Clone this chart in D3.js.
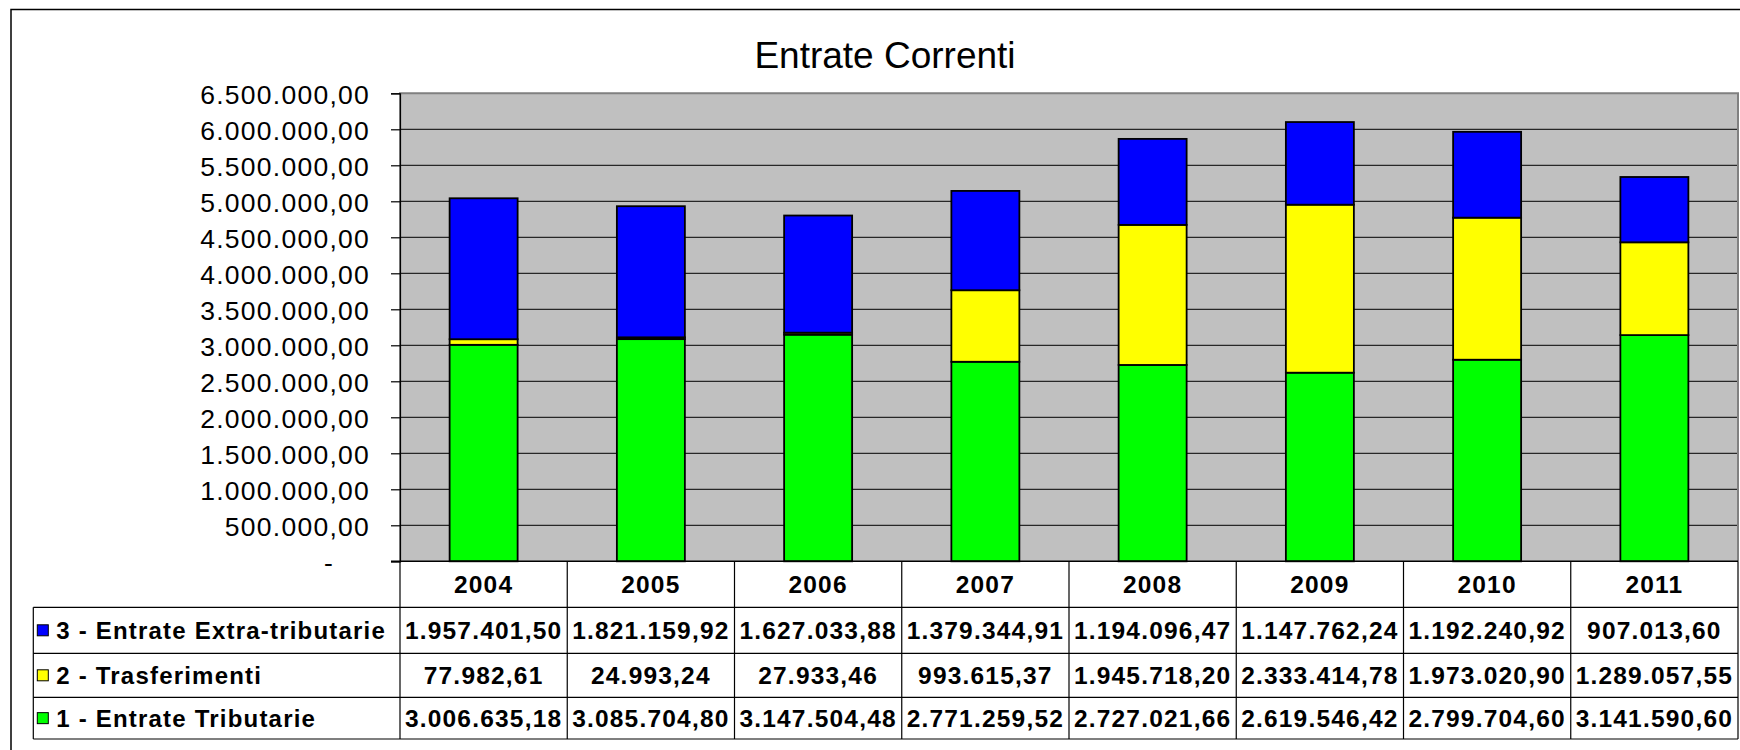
<!DOCTYPE html>
<html>
<head>
<meta charset="utf-8">
<script src="https://cdn.jsdelivr.net/npm/d3@7"></script>
<style>
  html, body { margin: 0; padding: 0; background: #fff; }
  svg { display: block; font-family: "Liberation Sans", Arial, sans-serif; }
</style>
</head>
<body>
<svg id="chart" width="1740" height="750"></svg>
<script>
// ---- data ----
const years = ["2004", "2005", "2006", "2007", "2008", "2009", "2010", "2011"];
const seriesNames = ["1 - Entrate Tributarie", "2 - Trasferimenti", "3 - Entrate Extra-tributarie"];
const tributarie   = [3006635.18, 3085704.80, 3147504.48, 2771259.52, 2727021.66, 2619546.42, 2799704.60, 3141590.60];
const trasferimenti = [77982.61, 24993.24, 27933.46, 993615.37, 1945718.20, 2333414.78, 1973020.90, 1289057.55];
const extraTributarie = [1957401.50, 1821159.92, 1627033.88, 1379344.91, 1194096.47, 1147762.24, 1192240.92, 907013.60];
const yTickValues = [0, 500000, 1000000, 1500000, 2000000, 2500000, 3000000, 3500000, 4000000, 4500000, 5000000, 5500000, 6000000, 6500000];
const title = "Entrate Correnti";

// ---- layout / style ----
const colors = ["#00FF00", "#FFFF00", "#0000FF"];
const plot = { left: 400, right: 1738, top: 93.3, bottom: 561.3 };
const rowHeights = [46, 46, 44, 41.7];   // header, row3, row2, row1
const legendLeft = 33.3;

const svg = d3.select("#chart");
const locale = d3.formatLocale({ decimal: ",", thousands: ".", grouping: [3], currency: ["", ""] });
const fmt = locale.format(",.2f");

// outer chart border
svg.append("rect")
  .attr("x", 11).attr("y", 9.5).attr("width", 1780).attr("height", 800)
  .attr("fill", "none").attr("stroke", "#000").attr("stroke-width", 1.5);

// title
svg.append("text")
  .attr("x", 885).attr("y", 68)
  .attr("text-anchor", "middle")
  .attr("font-size", 37)
  .attr("fill", "#000")
  .text(title);

// scales
const y = d3.scaleLinear().domain([0, 6500000]).range([plot.bottom, plot.top]);
const xCol = d3.scaleBand().domain(years).range([plot.left, plot.right]).padding(0);
const pin = 1 - 68 / xCol.step();
const xBar = d3.scaleBand().domain(years).range([plot.left, plot.right])
  .paddingInner(pin).paddingOuter(pin / 2);

// plot background
svg.append("rect")
  .attr("x", plot.left).attr("y", plot.top)
  .attr("width", plot.right - plot.left).attr("height", plot.bottom - plot.top)
  .attr("fill", "#C0C0C0");

// gridlines
svg.append("g").selectAll("line")
  .data(yTickValues.filter(v => v > 0 && v < 6500000))
  .join("line")
  .attr("x1", plot.left).attr("x2", plot.right)
  .attr("y1", d => y(d)).attr("y2", d => y(d))
  .attr("stroke", "#000").attr("stroke-width", 1);

// plot border (gray)
svg.append("path")
  .attr("d", `M${plot.left},${plot.bottom}V${plot.top}H${plot.right}V${plot.bottom}`)
  .attr("fill", "none").attr("stroke", "#808080").attr("stroke-width", 2);

// y axis
const yAxis = d3.axisLeft(y)
  .tickValues(yTickValues)
  .tickSize(9)
  .tickPadding(0)
  .tickFormat(d => d === 0 ? "-" : fmt(d));
const gy = svg.append("g").attr("transform", `translate(${plot.left},0)`).call(yAxis);
gy.select(".domain").attr("stroke", "#000").attr("stroke-width", 1.2);
gy.selectAll(".tick line").attr("stroke", "#000").attr("stroke-width", 1.2);
gy.selectAll(".tick text")
  .attr("x", d => d === 0 ? -66 : -30)
  .attr("dy", "0.38em")
  .attr("font-size", 26.5)
  .attr("font-family", "Liberation Sans, Arial, sans-serif")
  .style("letter-spacing", "1.25px")
  .attr("fill", "#000");

// stacked bars
const table = years.map((yr, i) => ({ year: yr, s1: tributarie[i], s2: trasferimenti[i], s3: extraTributarie[i] }));
const stack = d3.stack().keys(["s1", "s2", "s3"]);
const stacked = stack(table);

svg.append("g").selectAll("g")
  .data(stacked)
  .join("g")
  .attr("fill", (d, i) => colors[i])
  .selectAll("rect")
  .data(d => d)
  .join("rect")
  .attr("x", d => xBar(d.data.year))
  .attr("width", xBar.bandwidth())
  .attr("y", d => y(d[1]))
  .attr("height", d => y(d[0]) - y(d[1]))
  .attr("stroke", "#000").attr("stroke-width", 1.8);

// x axis line
svg.append("line")
  .attr("x1", plot.left - 9).attr("x2", plot.right)
  .attr("y1", plot.bottom).attr("y2", plot.bottom)
  .attr("stroke", "#000").attr("stroke-width", 1.5);

// ---- data table ----
const rowTops = [];
let acc = plot.bottom;
rowHeights.forEach(h => { rowTops.push(acc); acc += h; });
const tableBottom = acc;
const gt = svg.append("g");

// horizontal lines (below header)
for (let r = 1; r <= rowHeights.length; r++) {
  const yy = r < rowHeights.length ? rowTops[r] : tableBottom;
  gt.append("line")
    .attr("x1", legendLeft).attr("x2", plot.right)
    .attr("y1", yy).attr("y2", yy)
    .attr("stroke", "#000").attr("stroke-width", 1.2);
}
// vertical lines
gt.append("line")
  .attr("x1", legendLeft).attr("x2", legendLeft)
  .attr("y1", rowTops[1]).attr("y2", tableBottom)
  .attr("stroke", "#000").attr("stroke-width", 1.2);
const colEdges = years.map(yr => xCol(yr)).concat([plot.right]);
gt.selectAll("line.col")
  .data(colEdges)
  .join("line")
  .attr("class", "col")
  .attr("x1", d => d).attr("x2", d => d)
  .attr("y1", plot.bottom).attr("y2", tableBottom)
  .attr("stroke", "#000").attr("stroke-width", 1.2);

const cellFont = { size: 24.5, ls: "1.2px" };
// header years
gt.selectAll("text.year")
  .data(years)
  .join("text")
  .attr("class", "year")
  .attr("x", d => xCol(d) + xCol.bandwidth() / 2)
  .attr("y", rowTops[0] + rowHeights[0] / 2 + 8.5)
  .attr("text-anchor", "middle")
  .attr("font-size", cellFont.size).attr("font-weight", "bold")
  .style("letter-spacing", cellFont.ls)
  .text(d => d);

// rows: series 3, 2, 1
const rowSeries = [
  { name: seriesNames[2], values: extraTributarie, color: colors[2] },
  { name: seriesNames[1], values: trasferimenti, color: colors[1] },
  { name: seriesNames[0], values: tributarie, color: colors[0] }
];
rowSeries.forEach((s, r) => {
  const top = rowTops[r + 1];
  const h = rowHeights[r + 1];
  const cy = top + h / 2;
  gt.append("rect")
    .attr("x", legendLeft + 4).attr("y", cy - 5.5)
    .attr("width", 11).attr("height", 11)
    .attr("fill", s.color).attr("stroke", "#000").attr("stroke-width", 1);
  gt.append("text")
    .attr("x", legendLeft + 23).attr("y", cy + 8.5)
    .attr("font-size", 24).attr("font-weight", "bold")
    .style("letter-spacing", cellFont.ls)
    .text(s.name);
  gt.selectAll(null)
    .data(s.values)
    .join("text")
    .attr("x", (d, i) => xCol(years[i]) + xCol.bandwidth() / 2)
    .attr("y", cy + 8.5)
    .attr("text-anchor", "middle")
    .attr("font-size", cellFont.size).attr("font-weight", "bold")
    .style("letter-spacing", cellFont.ls)
    .text(d => fmt(d));
});
</script>
</body>
</html>
